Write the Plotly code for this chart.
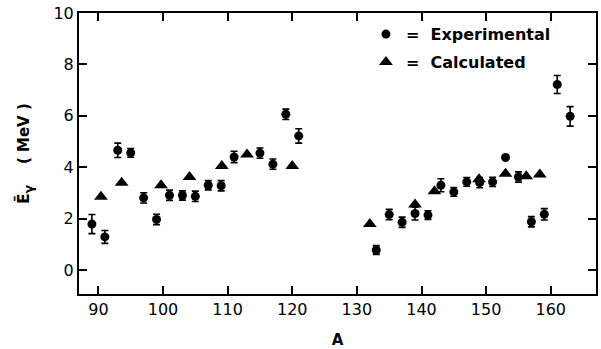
import plotly.graph_objects as go

# Experimental data
exp_A = [89, 91, 93, 95, 97, 99, 101, 103, 105, 107, 109, 111, 115, 117, 119, 121,
         133, 135, 137, 139, 141, 143, 145, 147, 149, 151, 153, 155, 157, 159, 161, 163]
exp_E = [1.79, 1.29, 4.66, 4.56, 2.81, 1.97, 2.91, 2.90, 2.87, 3.30, 3.28, 4.40, 4.55, 4.12, 6.06, 5.22,
         0.78, 2.16, 1.86, 2.20, 2.14, 3.30, 3.04, 3.43, 3.40, 3.43, 4.38, 3.62, 1.88, 2.17, 7.22, 5.98]
exp_err = [0.37, 0.25, 0.28, 0.17, 0.20, 0.20, 0.20, 0.18, 0.20, 0.18, 0.20, 0.22, 0.20, 0.20, 0.20, 0.28,
           0.17, 0.20, 0.20, 0.25, 0.17, 0.25, 0.17, 0.17, 0.20, 0.18, 0.0, 0.20, 0.20, 0.22, 0.35, 0.38]

# Calculated data
calc_A = [90.4, 93.6, 99.7, 104.1, 109.1, 113.0, 120.0, 132.0, 139.0, 142.0, 148.9, 153.0, 156.2, 158.3]
calc_E = [2.85, 3.40, 3.30, 3.62, 4.05, 4.50, 4.05, 1.79, 2.55, 3.07, 3.53, 3.75, 3.65, 3.72]

x_ticks = [90, 100, 110, 120, 130, 140, 150, 160]
y_ticks = [0, 2, 4, 6, 8, 10]

FONT = "DejaVu Sans"

fig = go.Figure()
fig.add_trace(go.Scatter(
    x=exp_A, y=exp_E, mode="markers", name="=  Experimental", legendgroup="exp",
    marker=dict(symbol="circle", size=9, color="black"),
    error_y=dict(type="data", array=exp_err, visible=True, color="black", thickness=1.6, width=3.5),
))
fig.add_trace(go.Scatter(
    x=calc_A, y=calc_E, mode="markers", name="=  Calculated", legendgroup="calc",
    marker=dict(symbol="triangle-up", size=12, color="black"),
))

axis_common = dict(
    showline=True, linecolor="black", linewidth=2, mirror="ticks",
    ticks="inside", ticklen=8, tickwidth=1.5, tickcolor="black",
    showgrid=False, zeroline=False,
    tickfont=dict(family=FONT, size=16, color="black"),
)

fig.update_xaxes(range=[87.0, 167.0], tickvals=x_ticks,
                 title=dict(text="<b>A</b>", font=dict(family=FONT, size=15, color="black"), standoff=16),
                 **axis_common)
fig.update_yaxes(range=[-0.93, 10.0], tickvals=y_ticks,
                 title=dict(text="<b>Ē<span style='font-size:18px'><sub>γ</sub></span>    ( MeV )</b>",
                            font=dict(family=FONT, size=15, color="black"), standoff=20),
                 **axis_common)

fig.update_layout(
    width=601, height=349,
    margin=dict(l=79, r=3, t=13, b=55),
    plot_bgcolor="white", paper_bgcolor="white",
    legend=dict(x=0.555, y=0.985, xanchor="left", yanchor="top",
                font=dict(family=FONT, size=16, color="black", weight="bold"),
                bgcolor="rgba(0,0,0,0)", tracegroupgap=4),
    showlegend=True,
)

fig.write_html("out.html")
